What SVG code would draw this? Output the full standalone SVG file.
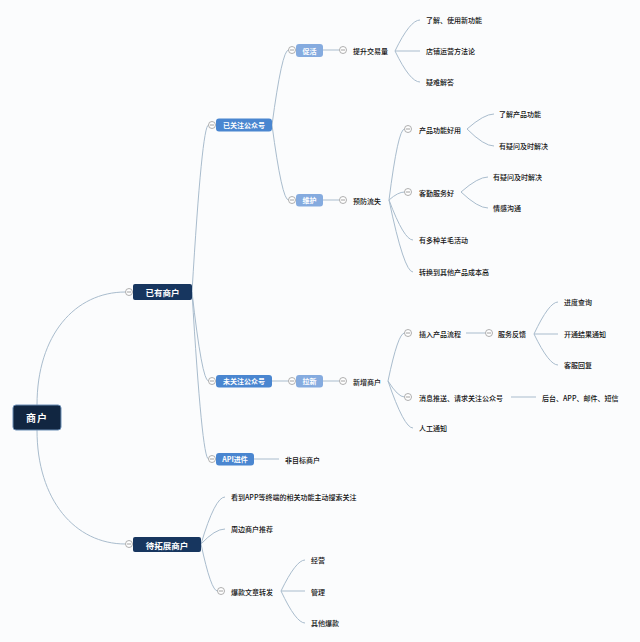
<svg xmlns="http://www.w3.org/2000/svg" width="640" height="642" viewBox="0 0 640 642">
<style>
.bg{fill:#fbfcfd}
.ln{fill:none;stroke:#a9bccd;stroke-width:1}
.tx{font-family:"Noto Sans CJK SC","Liberation Sans",sans-serif;font-size:7px;font-weight:500;fill:#111111;dominant-baseline:central}
.wt{font-family:"Noto Sans CJK SC","Liberation Sans",sans-serif;fill:#ffffff;font-weight:bold;text-anchor:middle;dominant-baseline:central}
.root{fill:#112641;stroke:#6a8db5;stroke-width:1}
.l1{fill:#17365f}
.l2{fill:#4a86d0}
.l3{fill:#85abdf}
.cc{fill:#ffffff;stroke:#9a9a9a;stroke-width:0.8}
.cm{stroke:#8a8a8a;stroke-width:0.8}
</style>
<defs>
<g id="col"><circle class="cc" r="3.5"/><line class="cm" x1="-2" y1="0" x2="2" y2="0"/></g>
</defs>
<rect class="bg" x="0" y="0" width="640" height="642"/>
<g id="connectors">
<path class="ln" d="M37,405 C37,335 75,292 125.5,292"/>
<path class="ln" d="M37,430 C37,500 75,544 125.5,544"/>
<path class="ln" d="M192,292 Q202,125 208.5,125"/>
<path class="ln" d="M192,292 Q202,381 208.5,381"/>
<path class="ln" d="M192,292 Q202,459 208.5,459"/>
<path class="ln" d="M272,125 Q282,50 288.5,50"/>
<path class="ln" d="M272,125 Q282,200 288.5,200"/>
<path class="ln" d="M272,381 L288.5,381"/>
<path class="ln" d="M254,459 L279,459"/>
<path class="ln" d="M323,50 L339.5,50"/>
<path class="ln" d="M323,200 L339.5,200"/>
<path class="ln" d="M323,381 L339.5,381"/>
<path class="ln" d="M395,51 Q410,20 420,20"/>
<path class="ln" d="M395,51 L420,51"/>
<path class="ln" d="M395,51 Q410,82 420,82"/>
<path class="ln" d="M389,200 Q398,129 404.5,129"/>
<path class="ln" d="M389,200 Q398,192 404.5,192"/>
<path class="ln" d="M389,200 Q404,240 413,240"/>
<path class="ln" d="M389,200 Q404,272 413,272"/>
<path class="ln" d="M467,129 Q484,114 494,114"/>
<path class="ln" d="M467,129 Q484,146 494,146"/>
<path class="ln" d="M461,192 Q478,177 488,177"/>
<path class="ln" d="M461,192 Q478,208 488,208"/>
<path class="ln" d="M388,381 Q398,333 404.5,333"/>
<path class="ln" d="M388,381 Q398,397 404.5,397"/>
<path class="ln" d="M388,381 Q404,428 413,428"/>
<path class="ln" d="M466,333 L485.5,333"/>
<path class="ln" d="M534,334 Q549,302 558,302"/>
<path class="ln" d="M534,334 L558,334"/>
<path class="ln" d="M534,334 Q549,365 558,365"/>
<path class="ln" d="M511,397 L536,397"/>
<path class="ln" d="M201,544 Q215,497 225,497"/>
<path class="ln" d="M201,544 Q215,529 225,529"/>
<path class="ln" d="M201,544 Q211,591 217.5,591"/>
<path class="ln" d="M281,591 Q296,560 305,560"/>
<path class="ln" d="M281,591 L305,591"/>
<path class="ln" d="M281,591 Q296,623 305,623"/>
</g>
<g id="root"><rect class="root" x="13" y="405" width="48" height="25" rx="3"/><text class="wt" x="37" y="417.5" font-size="10" letter-spacing="1">商户</text></g>
<g id="yiyou"><rect class="l1" x="133" y="284" width="59" height="16" rx="2"/><text class="wt" x="162.5" y="292" font-size="8.5">已有商户</text><use href="#col" x="129" y="292"/></g>
<g id="daituozhan"><rect class="l1" x="133" y="537" width="68" height="15" rx="2"/><text class="wt" x="167" y="544.5" font-size="8.5">待拓展商户</text><use href="#col" x="129" y="544"/></g>
<g id="yiguanzhu"><rect class="l2" x="216" y="118.5" width="56" height="13" rx="3"/><text class="wt" x="244" y="125" font-size="7">已关注公众号</text><use href="#col" x="212" y="125"/></g>
<g id="weiguanzhu"><rect class="l2" x="216" y="375" width="56" height="12.5" rx="3"/><text class="wt" x="244" y="381" font-size="7">未关注公众号</text><use href="#col" x="212" y="381"/></g>
<g id="api"><rect class="l2" x="216" y="453" width="38" height="12.5" rx="3"/><text class="wt" x="235" y="459.2" font-size="7">API进件</text><use href="#col" x="212" y="459"/></g>
<g id="cuhuo"><rect class="l3" x="296" y="44" width="27" height="13" rx="3"/><text class="wt" x="309.5" y="50.5" font-size="7">促活</text><use href="#col" x="292" y="50"/></g>
<g id="weihu"><rect class="l3" x="296" y="194" width="27" height="12.5" rx="3"/><text class="wt" x="309.5" y="200.2" font-size="7">维护</text><use href="#col" x="292" y="200"/></g>
<g id="laxin"><rect class="l3" x="296" y="375" width="27" height="12.5" rx="3"/><text class="wt" x="309.5" y="381.2" font-size="7">拉新</text><use href="#col" x="292" y="381"/></g>
<g id="tisheng"><use href="#col" x="343" y="50"/><text class="tx" x="353" y="50.5">提升交易量</text></g>
<g id="t1"><text class="tx" x="426" y="20">了解、使用新功能</text></g>
<g id="t2"><text class="tx" x="426" y="51">店铺运营方法论</text></g>
<g id="t3"><text class="tx" x="426" y="82">疑难解答</text></g>
<g id="yufang"><use href="#col" x="343" y="200"/><text class="tx" x="353" y="200.5">预防流失</text></g>
<g id="chanpin"><use href="#col" x="408" y="129"/><text class="tx" x="419" y="129.5">产品功能好用</text></g>
<g id="p1"><text class="tx" x="499" y="114">了解产品功能</text></g>
<g id="p2"><text class="tx" x="499" y="146">有疑问及时解决</text></g>
<g id="keqin"><use href="#col" x="408" y="192"/><text class="tx" x="419" y="192.5">客勤服务好</text></g>
<g id="k1"><text class="tx" x="493" y="177">有疑问及时解决</text></g>
<g id="k2"><text class="tx" x="493" y="208">情感沟通</text></g>
<g id="yangmao"><text class="tx" x="419" y="240">有多种羊毛活动</text></g>
<g id="zhuanhuan"><text class="tx" x="419" y="272">转换到其他产品成本高</text></g>
<g id="xinzeng"><use href="#col" x="343" y="381"/><text class="tx" x="353" y="381.5">新增商户</text></g>
<g id="charu"><use href="#col" x="408" y="333"/><text class="tx" x="419" y="333.5">插入产品流程</text></g>
<g id="fankui"><use href="#col" x="489" y="333"/><text class="tx" x="498" y="333.5">服务反馈</text></g>
<g id="f1"><text class="tx" x="564" y="302">进度查询</text></g>
<g id="f2"><text class="tx" x="564" y="334">开通结果通知</text></g>
<g id="f3"><text class="tx" x="564" y="365">客服回复</text></g>
<g id="xiaoxi"><use href="#col" x="408" y="397"/><text class="tx" x="419" y="397.5">消息推送、请求关注公众号</text></g>
<g id="houtai"><text class="tx" x="542" y="397.5">后台、APP、邮件、短信</text></g>
<g id="rengong"><text class="tx" x="419" y="428">人工通知</text></g>
<g id="feimubiao"><text class="tx" x="285" y="459.5">非目标商户</text></g>
<g id="kandao"><text class="tx" x="231" y="497">看到APP等终端的相关功能主动搜索关注</text></g>
<g id="zhoubian"><text class="tx" x="231" y="529">周边商户推荐</text></g>
<g id="baokuan"><use href="#col" x="221" y="591"/><text class="tx" x="231" y="591.5">爆款文章转发</text></g>
<g id="b1"><text class="tx" x="311" y="560">经营</text></g>
<g id="b2"><text class="tx" x="311" y="592">管理</text></g>
<g id="b3"><text class="tx" x="311" y="623">其他爆款</text></g>
</svg>
